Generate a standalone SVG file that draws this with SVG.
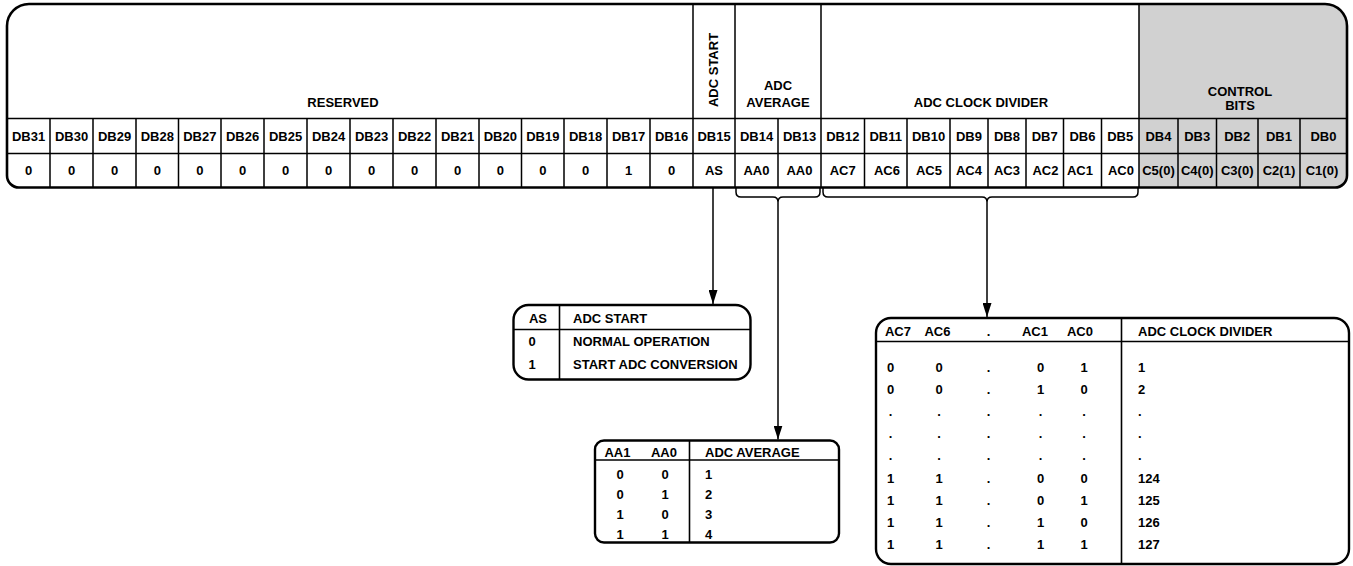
<svg xmlns="http://www.w3.org/2000/svg" width="1353" height="566" viewBox="0 0 1353 566">
<defs>
<style>
text{font-family:"Liberation Sans",Arial,Helvetica,sans-serif;font-weight:bold;font-size:13px;fill:#000}
.c{text-anchor:middle}
.ln{stroke:#000;stroke-width:1.5;fill:none}
.ob{stroke:#000;stroke-width:2.6;fill:none}
.tb{stroke:#000;stroke-width:2.4;fill:#fff}
.tl{stroke:#000;stroke-width:1.6;fill:none}
.br{stroke:#000;stroke-width:1.5;fill:none}
</style>
<marker id="ah" markerUnits="userSpaceOnUse" markerWidth="14" markerHeight="9" refX="14" refY="4.5" orient="auto">
<path d="M0,0 L14,4.5 L0,9 Z" fill="#000"/>
</marker>
</defs>
<rect width="1353" height="566" fill="#fff"/>

<g id="register">
<path d="M29,4 H1325 A22,22 0 0 1 1347,26 V175.5 A12,12 0 0 1 1335,187.5 H19 A12,12 0 0 1 7,175.5 V26 A22,22 0 0 1 29,4 Z" fill="#fff"/>
<path d="M1139,4 H1325 A22,22 0 0 1 1347,26 V175.5 A12,12 0 0 1 1335,187.5 H1139 Z" fill="#d1d1d1"/>
<path class="ln" d="M7,118.5 H1347 M7,153.5 H1347 M693,4 V187.5 M735,4 V187.5 M821,4 V187.5 M1139,4 V187.5"/>
<path class="ln" d="M50,118.5 V187.5 M93,118.5 V187.5 M136,118.5 V187.5 M178.5,118.5 V187.5 M221,118.5 V187.5 M264,118.5 V187.5 M307,118.5 V187.5 M350,118.5 V187.5 M393,118.5 V187.5 M436,118.5 V187.5 M479,118.5 V187.5 M521.5,118.5 V187.5 M564,118.5 V187.5 M607,118.5 V187.5 M650,118.5 V187.5 M778,118.5 V187.5 M864.5,118.5 V187.5 M907,118.5 V187.5 M950,118.5 V187.5 M988,118.5 V187.5 M1026,118.5 V187.5 M1063.5,118.5 V187.5 M1101.5,118.5 V187.5 M1178,118.5 V187.5 M1216.5,118.5 V187.5 M1258,118.5 V187.5 M1300,118.5 V187.5"/>
<path class="ob" d="M29,4 H1325 A22,22 0 0 1 1347,26 V175.5 A12,12 0 0 1 1335,187.5 H19 A12,12 0 0 1 7,175.5 V26 A22,22 0 0 1 29,4 Z"/>
</g>

<g id="field-headers">
<text class="c" x="343" y="107">RESERVED</text>
<text class="c" transform="translate(718,70) rotate(-90)">ADC START</text>
<text class="c" x="778" y="90">ADC</text>
<text class="c" x="778" y="107">AVERAGE</text>
<text class="c" x="981" y="107">ADC CLOCK DIVIDER</text>
<text class="c" x="1240" y="96">CONTROL</text>
<text class="c" x="1240" y="110">BITS</text>
</g>

<g id="bit-names">
<text class="c" x="28.5" y="141">DB31</text>
<text class="c" x="71.5" y="141">DB30</text>
<text class="c" x="114.5" y="141">DB29</text>
<text class="c" x="157.25" y="141">DB28</text>
<text class="c" x="199.75" y="141">DB27</text>
<text class="c" x="242.5" y="141">DB26</text>
<text class="c" x="285.5" y="141">DB25</text>
<text class="c" x="328.5" y="141">DB24</text>
<text class="c" x="371.5" y="141">DB23</text>
<text class="c" x="414.5" y="141">DB22</text>
<text class="c" x="457.5" y="141">DB21</text>
<text class="c" x="500.25" y="141">DB20</text>
<text class="c" x="542.75" y="141">DB19</text>
<text class="c" x="585.5" y="141">DB18</text>
<text class="c" x="628.5" y="141">DB17</text>
<text class="c" x="671.5" y="141">DB16</text>
<text class="c" x="714" y="141">DB15</text>
<text class="c" x="756.5" y="141">DB14</text>
<text class="c" x="799.5" y="141">DB13</text>
<text class="c" x="842.75" y="141">DB12</text>
<text class="c" x="885.75" y="141">DB11</text>
<text class="c" x="928.5" y="141">DB10</text>
<text class="c" x="969" y="141">DB9</text>
<text class="c" x="1007" y="141">DB8</text>
<text class="c" x="1044.75" y="141">DB7</text>
<text class="c" x="1082.5" y="141">DB6</text>
<text class="c" x="1120.25" y="141">DB5</text>
<text class="c" x="1158.5" y="141">DB4</text>
<text class="c" x="1197.25" y="141">DB3</text>
<text class="c" x="1237.25" y="141">DB2</text>
<text class="c" x="1279" y="141">DB1</text>
<text class="c" x="1323.5" y="141">DB0</text>
</g>

<g id="bit-values">
<text class="c" x="28.5" y="175">0</text>
<text class="c" x="71.5" y="175">0</text>
<text class="c" x="114.5" y="175">0</text>
<text class="c" x="157.25" y="175">0</text>
<text class="c" x="199.75" y="175">0</text>
<text class="c" x="242.5" y="175">0</text>
<text class="c" x="285.5" y="175">0</text>
<text class="c" x="328.5" y="175">0</text>
<text class="c" x="371.5" y="175">0</text>
<text class="c" x="414.5" y="175">0</text>
<text class="c" x="457.5" y="175">0</text>
<text class="c" x="500.25" y="175">0</text>
<text class="c" x="542.75" y="175">0</text>
<text class="c" x="585.5" y="175">0</text>
<text class="c" x="628.5" y="175">1</text>
<text class="c" x="671.5" y="175">0</text>
<text class="c" x="714" y="175">AS</text>
<text class="c" x="756.5" y="175">AA0</text>
<text class="c" x="799.5" y="175">AA0</text>
<text class="c" x="842.75" y="175">AC7</text>
<text class="c" x="887" y="175">AC6</text>
<text class="c" x="929" y="175">AC5</text>
<text class="c" x="969" y="175">AC4</text>
<text class="c" x="1007" y="175">AC3</text>
<text class="c" x="1045.5" y="175">AC2</text>
<text class="c" x="1080" y="175">AC1</text>
<text class="c" x="1121" y="175">AC0</text>
<text class="c" x="1158.5" y="175">C5(0)</text>
<text class="c" x="1197.25" y="175">C4(0)</text>
<text class="c" x="1237.25" y="175">C3(0)</text>
<text class="c" x="1279" y="175">C2(1)</text>
<text class="c" x="1322" y="175">C1(0)</text>
</g>

<g id="connectors">
<path class="br" d="M736,188 V192 Q736,197 741,197 H773 Q778,197 778,202 Q778,197 783,197 H815 Q820,197 820,192 V188"/>
<path class="br" d="M823,188 V192 Q823,197 828,197 H982 Q987,197 987,202 Q987,197 992,197 H1133 Q1138,197 1138,192 V188"/>
<line class="br" x1="713" y1="188" x2="713" y2="304" marker-end="url(#ah)"/>
<line class="br" x1="778" y1="202" x2="778" y2="439.5" marker-end="url(#ah)"/>
<line class="br" x1="987" y1="202" x2="987" y2="317" marker-end="url(#ah)"/>
</g>

<g id="as-table">
<rect class="tb" x="513.5" y="305" width="237" height="74.5" rx="15"/>
<path class="tl" d="M559.5,305 V379.5 M513.5,329.5 H750.5"/>
<text class="c" x="538" y="323">AS</text>
<text x="573" y="323">ADC START</text>
<text class="c" x="532" y="346">0</text>
<text x="573" y="346">NORMAL OPERATION</text>
<text class="c" x="532" y="369">1</text>
<text x="573" y="369">START ADC CONVERSION</text>
</g>

<g id="aa-table">
<rect class="tb" x="595" y="440.5" width="244" height="102" rx="9"/>
<path class="tl" d="M689.5,440.5 V542.5 M595,460 H839"/>
<text class="c" x="617.5" y="456.5">AA1</text>
<text class="c" x="664" y="456.5">AA0</text>
<text x="705" y="456.5">ADC AVERAGE</text>
<text class="c" x="620" y="479">0</text><text class="c" x="665" y="479">0</text><text x="705" y="479">1</text>
<text class="c" x="620" y="499">0</text><text class="c" x="665" y="499">1</text><text x="705" y="499">2</text>
<text class="c" x="620" y="519">1</text><text class="c" x="665" y="519">0</text><text x="705" y="519">3</text>
<text class="c" x="620" y="539">1</text><text class="c" x="665" y="539">1</text><text x="705" y="539">4</text>
</g>

<g id="ac-table">
<rect class="tb" x="876" y="318" width="473" height="246" rx="15"/>
<path class="tl" d="M1121.5,318 V564 M876,341.5 H1349"/>
<text class="c" x="898" y="336">AC7</text>
<text class="c" x="937.5" y="336">AC6</text>
<text class="c" x="988.5" y="336">.</text>
<text class="c" x="1035" y="336">AC1</text>
<text class="c" x="1080" y="336">AC0</text>
<text x="1138" y="336">ADC CLOCK DIVIDER</text>
<g>
<text class="c" x="890.5" y="372">0</text><text class="c" x="939" y="372">0</text><text class="c" x="988.5" y="372">.</text><text class="c" x="1040.5" y="372">0</text><text class="c" x="1084" y="372">1</text><text x="1138" y="372">1</text>
<text class="c" x="890.5" y="394">0</text><text class="c" x="939" y="394">0</text><text class="c" x="988.5" y="394">.</text><text class="c" x="1040.5" y="394">1</text><text class="c" x="1084" y="394">0</text><text x="1138" y="394">2</text>
<text class="c" x="890.5" y="416">.</text><text class="c" x="939" y="416">.</text><text class="c" x="988.5" y="416">.</text><text class="c" x="1040.5" y="416">.</text><text class="c" x="1084" y="416">.</text><text x="1138" y="416">.</text>
<text class="c" x="890.5" y="438">.</text><text class="c" x="939" y="438">.</text><text class="c" x="988.5" y="438">.</text><text class="c" x="1040.5" y="438">.</text><text class="c" x="1084" y="438">.</text><text x="1138" y="438">.</text>
<text class="c" x="890.5" y="460">.</text><text class="c" x="939" y="460">.</text><text class="c" x="988.5" y="460">.</text><text class="c" x="1040.5" y="460">.</text><text class="c" x="1084" y="460">.</text><text x="1138" y="460">.</text>
<text class="c" x="890.5" y="482.5">1</text><text class="c" x="939" y="482.5">1</text><text class="c" x="988.5" y="482.5">.</text><text class="c" x="1040.5" y="482.5">0</text><text class="c" x="1084" y="482.5">0</text><text x="1138" y="482.5">124</text>
<text class="c" x="890.5" y="504.5">1</text><text class="c" x="939" y="504.5">1</text><text class="c" x="988.5" y="504.5">.</text><text class="c" x="1040.5" y="504.5">0</text><text class="c" x="1084" y="504.5">1</text><text x="1138" y="504.5">125</text>
<text class="c" x="890.5" y="526.5">1</text><text class="c" x="939" y="526.5">1</text><text class="c" x="988.5" y="526.5">.</text><text class="c" x="1040.5" y="526.5">1</text><text class="c" x="1084" y="526.5">0</text><text x="1138" y="526.5">126</text>
<text class="c" x="890.5" y="548.5">1</text><text class="c" x="939" y="548.5">1</text><text class="c" x="988.5" y="548.5">.</text><text class="c" x="1040.5" y="548.5">1</text><text class="c" x="1084" y="548.5">1</text><text x="1138" y="548.5">127</text>
</g>
</g>
</svg>
